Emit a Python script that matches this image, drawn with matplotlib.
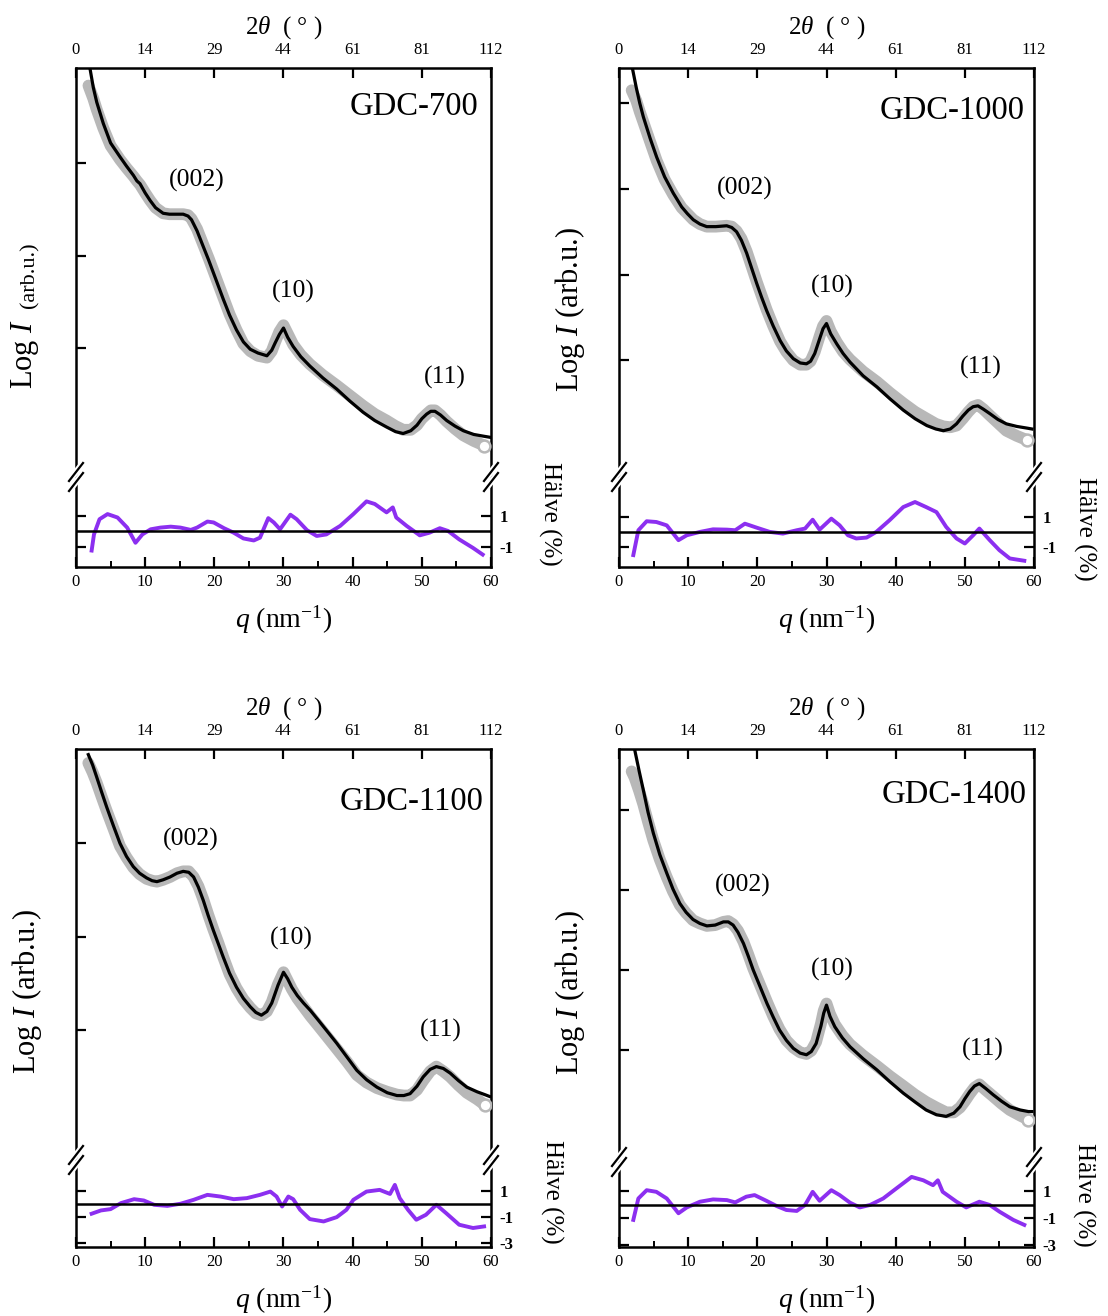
################################################################################
# SAXS/WAXS fits of GDC samples with residual panels
################################################################################
import numpy as np
import matplotlib
matplotlib.use('Agg')
from matplotlib import pyplot as plt
from matplotlib.lines import Line2D
from matplotlib.ticker import MultipleLocator

plt.rcParams['font.family'] = ['Liberation Serif', 'DejaVu Serif']
plt.rcParams['mathtext.fontset'] = 'custom'
plt.rcParams['mathtext.rm'] = 'Liberation Serif'
plt.rcParams['mathtext.it'] = 'Liberation Serif:italic'
plt.rcParams['mathtext.bf'] = 'Liberation Serif:bold'

# shared axis labels
q_ticks = [0, 10, 20, 30, 40, 50, 60]
two_theta = ['0', '14', '29', '44', '61', '81', '112']
peaks = ['(002)', '(10)', '(11)']
samples = ['GDC-700', 'GDC-1000', 'GDC-1100', 'GDC-1400']

# GDC-700  (obs is one point shorter than the fit grid)
q_700 = [1.8, 2.5, 3.0, 3.95, 5.0, 6.36, 7.3, 8.3, 8.8, 9.25,
         10.0, 10.7, 11.5, 12.6, 13.5, 14.5, 15.5, 16.2, 16.7, 17.5,
         18.4, 19.2, 19.9, 21.3, 22.2, 23.2, 24.2, 25.2, 26.3, 27.6,
         28.3, 28.8, 29.4, 30.0, 30.6, 31.4, 32.5, 33.8, 35.7, 37.7,
         39.6, 41.5, 43.2, 44.9, 46.2, 47.3, 48.4, 49.3, 50.0, 50.7,
         51.3, 51.9, 52.7, 53.6, 54.8, 56.0, 57.5, 59.0, 59.8]
fit_700 = [4.12, 3.82, 3.66, 3.43, 3.22, 3.07, 2.97, 2.87, 2.81, 2.78,
           2.68, 2.60, 2.52, 2.46, 2.45, 2.45, 2.45, 2.43, 2.39, 2.27,
           2.10, 1.95, 1.81, 1.53, 1.36, 1.20, 1.07, 0.99, 0.95, 0.92,
           0.98, 1.06, 1.15, 1.22, 1.12, 1.02, 0.91, 0.81, 0.68, 0.56,
           0.43, 0.31, 0.22, 0.15, 0.10, 0.08, 0.11, 0.17, 0.24, 0.29,
           0.32, 0.32, 0.28, 0.22, 0.16, 0.11, 0.07, 0.05, 0.04]
obs_700 = [3.84, 3.70, 3.58, 3.38, 3.19, 3.04, 2.95, 2.86, 2.81, 2.77,
           2.68, 2.60, 2.52, 2.46, 2.45, 2.45, 2.45, 2.44, 2.40, 2.29,
           2.12, 1.97, 1.83, 1.55, 1.37, 1.20, 1.05, 0.97, 0.92, 0.90,
           0.97, 1.07, 1.18, 1.25, 1.16, 1.04, 0.93, 0.83, 0.71, 0.60,
           0.49, 0.38, 0.29, 0.22, 0.16, 0.12, 0.12, 0.17, 0.24, 0.29,
           0.33, 0.33, 0.28, 0.21, 0.13, 0.06, 0.00, -0.05]
qr_700 = [2.26, 2.6, 3.4, 4.56, 6.0, 7.4, 8.6, 9.6, 10.8, 12.2, 13.7, 15.1, 16.6, 17.5, 19.0, 19.9,
          21.4, 22.8, 24.2, 25.7, 26.6, 27.8, 28.6, 29.5, 31.0, 31.9, 33.4, 34.8, 36.2, 38.2, 40.1,
          42.0, 43.2, 44.9, 45.8, 46.3, 47.8, 49.7, 51.1, 52.6, 53.8, 55.4, 57.4, 58.8]
res_700 = [-1.24, -0.2, 0.78, 1.11, 0.89, 0.24, -0.74, -0.2, 0.13, 0.24, 0.30, 0.24, 0.09, 0.24, 0.63,
           0.57, 0.2, -0.09, -0.46, -0.59, -0.41, 0.85, 0.57, 0.13, 1.07, 0.78, 0.07, -0.3, -0.2, 0.35,
           1.11, 1.93, 1.76, 1.22, 1.54, 0.89, 0.35, -0.26, -0.09, 0.2, 0.02, -0.52, -1.07, -1.5]

# GDC-1000
q_1000 = [1.83, 2.5, 3.0, 3.52, 4.5, 5.45, 6.6, 7.85, 9.06, 9.9,
          10.74, 11.7, 12.68, 14.0, 15.57, 16.3, 17.0, 17.7, 18.46, 19.2,
          19.9, 20.6, 21.35, 22.3, 23.3, 24.2, 25.2, 26.2, 27.1, 27.7,
          28.3, 29.0, 29.5, 30.0, 30.6, 31.5, 32.4, 33.4, 35.3, 37.3,
          39.2, 41.1, 42.8, 44.5, 45.8, 46.9, 47.9, 48.8, 49.7, 50.5,
          51.2, 51.9, 52.7, 53.6, 54.8, 56.0, 57.5, 59.0, 59.7]
fit_1000 = [4.45, 4.18, 4.00, 3.84, 3.59, 3.37, 3.14, 2.95, 2.79, 2.71,
            2.64, 2.59, 2.56, 2.56, 2.57, 2.55, 2.50, 2.40, 2.25, 2.07,
            1.90, 1.74, 1.58, 1.40, 1.23, 1.11, 1.02, 0.97, 0.96, 0.99,
            1.08, 1.25, 1.37, 1.43, 1.31, 1.19, 1.08, 0.98, 0.82, 0.69,
            0.55, 0.42, 0.32, 0.24, 0.20, 0.18, 0.20, 0.26, 0.35, 0.42,
            0.46, 0.47, 0.43, 0.38, 0.31, 0.26, 0.23, 0.21, 0.20]
obs_1000 = [4.15, 4.03, 3.90, 3.78, 3.55, 3.33, 3.11, 2.93, 2.78, 2.71,
            2.64, 2.59, 2.56, 2.56, 2.57, 2.56, 2.51, 2.42, 2.27, 2.09,
            1.92, 1.76, 1.59, 1.40, 1.22, 1.10, 1.00, 0.95, 0.95, 0.99,
            1.10, 1.28, 1.40, 1.46, 1.34, 1.21, 1.10, 1.01, 0.87, 0.75,
            0.62, 0.50, 0.40, 0.32, 0.26, 0.23, 0.22, 0.24, 0.32, 0.40,
            0.46, 0.48, 0.43, 0.36, 0.27, 0.18, 0.12, 0.07]
qr_1000 = [2.07, 2.8, 4.0, 5.4, 6.9, 8.6, 9.8, 11.7, 13.6, 15.6, 16.8, 18.2, 19.9, 21.8, 23.7, 25.7,
           26.9, 28.0, 29.0, 30.7, 31.9, 33.1, 34.3, 35.8, 37.2, 39.1, 41.1, 42.8, 44.4, 45.9, 47.3,
           48.8, 50.0, 51.2, 52.1, 53.6, 55.0, 56.5, 58.6]
res_1000 = [-1.52, 0.11, 0.70, 0.65, 0.43, -0.54, -0.22, 0.0, 0.17, 0.15, 0.11, 0.54, 0.28, 0.0,
            -0.11, 0.11, 0.22, 0.80, 0.15, 0.87, 0.43, -0.22, -0.43, -0.37, 0.0, 0.76, 1.63, 1.96,
            1.63, 1.30, 0.33, -0.43, -0.76, -0.22, 0.22, -0.54, -1.20, -1.74, -1.89]

# GDC-1100
q_1100 = [1.78, 2.4, 2.99, 3.7, 4.43, 5.4, 6.36, 7.3, 8.29, 9.2,
          10.2, 11.0, 11.7, 12.6, 13.6, 14.6, 15.5, 16.3, 17.0, 17.7,
          18.4, 19.1, 19.85, 20.6, 21.3, 22.2, 23.2, 24.2, 25.2, 26.0,
          26.8, 27.6, 28.3, 29.2, 30.0, 30.6, 31.2, 32.0, 32.9, 33.9,
          35.0, 36.3, 37.7, 39.2, 40.6, 42.0, 43.5, 45.0, 46.4, 47.4,
          48.3, 49.3, 50.2, 51.2, 52.1, 53.1, 54.1, 55.3, 56.5, 58.0,
          59.1, 59.8]
fit_1100 = [3.95, 3.84, 3.71, 3.55, 3.39, 3.19, 3.00, 2.86, 2.75, 2.68,
            2.63, 2.60, 2.59, 2.61, 2.64, 2.68, 2.70, 2.69, 2.64, 2.53,
            2.39, 2.23, 2.07, 1.92, 1.78, 1.61, 1.46, 1.34, 1.25, 1.19,
            1.16, 1.20, 1.29, 1.48, 1.62, 1.55, 1.46, 1.37, 1.29, 1.21,
            1.11, 0.99, 0.86, 0.71, 0.57, 0.47, 0.39, 0.33, 0.30, 0.30,
            0.32, 0.40, 0.50, 0.58, 0.61, 0.59, 0.54, 0.46, 0.39, 0.34,
            0.31, 0.29]
obs_1100 = [3.86, 3.76, 3.65, 3.50, 3.35, 3.16, 2.97, 2.85, 2.74, 2.67,
            2.62, 2.60, 2.59, 2.61, 2.64, 2.68, 2.70, 2.70, 2.64, 2.54,
            2.40, 2.24, 2.08, 1.93, 1.78, 1.60, 1.45, 1.33, 1.24, 1.18,
            1.16, 1.20, 1.30, 1.49, 1.62, 1.53, 1.44, 1.34, 1.25, 1.15,
            1.05, 0.93, 0.80, 0.66, 0.52, 0.44, 0.38, 0.34, 0.31, 0.30,
            0.30, 0.36, 0.46, 0.56, 0.61, 0.56, 0.50, 0.41, 0.33, 0.26,
            0.20]
qr_1100 = [2.26, 3.6, 5.0, 6.5, 8.4, 9.8, 11.3, 13.2, 15.1, 17.0, 19.0, 20.9, 22.8, 24.7, 26.6, 28.1,
           29.0, 29.8, 30.7, 31.4, 32.4, 33.8, 35.8, 37.7, 39.1, 40.1, 42.0, 43.9, 45.4, 46.1, 46.8,
           48.0, 49.2, 50.6, 52.1, 53.5, 55.4, 57.4, 59.0]
res_1100 = [-0.73, -0.48, -0.38, 0.08, 0.38, 0.28, -0.05, -0.13, 0.03, 0.33, 0.71, 0.58, 0.38, 0.46,
            0.71, 0.96, 0.58, -0.18, 0.58, 0.38, -0.43, -1.14, -1.32, -0.99, -0.43, 0.33, 0.96, 1.09,
            0.78, 1.47, 0.46, -0.43, -1.19, -0.81, -0.05, -0.68, -1.57, -1.82, -1.70]

# GDC-1400
q_1400 = [1.83, 2.27, 2.9, 3.51, 4.2, 4.96, 5.9, 6.9, 7.8, 8.8,
          9.7, 10.7, 11.7, 12.7, 13.9, 15.1, 15.8, 16.5, 17.2, 18.0,
          18.7, 19.4, 20.4, 21.4, 22.3, 23.2, 24.2, 25.2, 26.2, 27.1,
          27.8, 28.5, 29.2, 29.6, 30.0, 30.5, 31.2, 32.3, 33.4, 35.3,
          37.3, 39.2, 41.1, 42.8, 44.4, 45.9, 47.3, 48.4, 49.3, 50.0,
          50.7, 51.4, 52.1, 53.0, 54.1, 55.3, 56.5, 58.0, 59.2, 59.7]
fit_1400 = [4.95, 4.75, 4.49, 4.25, 3.97, 3.71, 3.44, 3.21, 3.01, 2.83,
            2.72, 2.63, 2.58, 2.55, 2.56, 2.60, 2.60, 2.56, 2.47, 2.33,
            2.17, 2.00, 1.79, 1.58, 1.41, 1.25, 1.12, 1.02, 0.96, 0.94,
            0.98, 1.08, 1.30, 1.46, 1.56, 1.42, 1.29, 1.15, 1.04, 0.89,
            0.75, 0.60, 0.46, 0.35, 0.25, 0.19, 0.17, 0.21, 0.29, 0.39,
            0.48, 0.55, 0.58, 0.52, 0.44, 0.36, 0.29, 0.25, 0.23, 0.23]
obs_1400 = [4.48, 4.40, 4.24, 4.07, 3.85, 3.62, 3.38, 3.16, 2.98, 2.81,
            2.71, 2.62, 2.58, 2.55, 2.56, 2.60, 2.61, 2.57, 2.49, 2.35,
            2.19, 2.02, 1.81, 1.60, 1.42, 1.26, 1.12, 1.03, 0.97, 0.95,
            0.99, 1.10, 1.33, 1.49, 1.58, 1.45, 1.32, 1.18, 1.07, 0.93,
            0.80, 0.67, 0.55, 0.44, 0.35, 0.28, 0.22, 0.22, 0.28, 0.36,
            0.45, 0.53, 0.57, 0.50, 0.42, 0.33, 0.25, 0.18, 0.13]
qr_1400 = [2.07, 2.8, 4.0, 5.4, 6.9, 8.6, 9.8, 11.7, 13.6, 15.6, 16.8, 18.4, 19.6, 21.3, 22.8, 24.2,
           25.7, 26.9, 28.0, 29.0, 30.7, 31.9, 33.4, 34.8, 36.3, 38.2, 40.1, 42.3, 44.0, 45.4, 46.1,
           46.8, 48.8, 50.2, 52.1, 53.6, 55.0, 57.0, 58.6]
res_1400 = [-1.12, 0.46, 1.07, 0.95, 0.46, -0.63, -0.2, 0.22, 0.39, 0.34, 0.17, 0.59, 0.71, 0.29,
            -0.1, -0.39, -0.46, -0.02, 0.95, 0.29, 1.07, 0.71, 0.15, -0.2, -0.02, 0.46, 1.2, 2.05,
            1.80, 1.44, 1.80, 0.95, 0.22, -0.2, 0.22, -0.02, -0.51, -1.12, -1.49]

# ---------------- layout (pixel boxes: left, top, junction, bottom) ----------------
W, H = 1108, 1316
boxes = [(76, 68, 477, 567), (619, 68, 477, 567), (76, 749, 1160, 1247), (619, 749, 1162, 1247)]
main_ylim = [(-0.39, 4.03), (-0.36, 4.41), (-0.39, 4.01), (-0.40, 4.76)]
main_yticks = [[1, 2, 3], [1, 2, 3, 4], [1, 2, 3], [1, 2, 3, 4]]
res_ylim = [(-2.3, 3.5), (-2.3, 3.6), (-3.27, 3.37), (-3.12, 3.15)]
res_yticks = [[1, -1], [1, -1], [1, -1, -3], [1, -1, -3]]
peak_pos = [[(17.5, 2.81), (31.4, 1.62), (53.3, 0.69)],
            [(18.2, 3.00), (30.9, 1.86), (52.3, 0.92)],
            [(16.6, 3.04), (31.1, 1.98), (52.8, 1.00)],
            [(17.9, 3.06), (30.8, 2.00), (52.6, 1.00)]]
name_pos = [(0.969, 0.905), (0.978, 0.895), (0.983, 0.871), (0.983, 0.889)]
halve_pos = [(1.142, 0.59), (1.123, 0.42), (1.145, 0.63), (1.12, 0.61)]

panels = [(q_700, fit_700, obs_700, qr_700, res_700),
          (q_1000, fit_1000, obs_1000, qr_1000, res_1000),
          (q_1100, fit_1100, obs_1100, qr_1100, res_1100),
          (q_1400, fit_1400, obs_1400, qr_1400, res_1400)]

GRAY = '#b8b8b8'
PURPLE = '#8c2ff0'
LW = 1.8
TICK_FS = 12


def break_marks(fig, x_px, y_px):
    # two short slashes across the spine where the y-axis is broken
    for color, lw in (('white', 4.5), ('black', 1.6)):
        for dy in (-5, 5):
            xs = [(x_px - 7) / W, (x_px + 7) / W]
            ys = [1 - (y_px + dy + 9) / H, 1 - (y_px + dy - 9) / H]
            fig.add_artist(Line2D(xs, ys, color=color, lw=lw))


fig = plt.figure(figsize=(W / 100, H / 100), dpi=100)

for i, (q, fit, obs, qr, res) in enumerate(panels):
    left, top, junc, bottom = boxes[i]
    ax = fig.add_axes([left / W, 1 - junc / H, 415 / W, (junc - top) / H])
    axr = fig.add_axes([left / W, 1 - bottom / H, 415 / W, (bottom - junc) / H])

    # main: measured data band + fit
    q_obs = q[:len(obs)]
    ax.plot(q_obs, obs, color=GRAY, lw=8.5, solid_capstyle='round', solid_joinstyle='round', zorder=2)
    ax.plot(q_obs[-1], obs[-1], 'o', ms=8.5, mfc='white', mec=GRAY, mew=1.8, zorder=3)
    ax.plot(q, fit, color='black', lw=2.3, zorder=4)
    ax.set_xlim(0, 60)
    ax.set_ylim(*main_ylim[i])
    ax.spines['bottom'].set_visible(False)
    for s in ('top', 'left', 'right'):
        ax.spines[s].set_linewidth(LW)
    ax.set_xticks(q_ticks)
    ax.set_xticklabels(two_theta)
    ax.tick_params(axis='x', top=True, bottom=False, labeltop=True, labelbottom=False,
                   direction='in', length=7, width=1.6, pad=7, labelsize=TICK_FS)
    ax.set_yticks(main_yticks[i])
    ax.tick_params(axis='y', left=True, right=False, labelleft=False, direction='in',
                   length=7, width=1.6)
    ax.set_xlabel(r'2$\theta$  ( ° )', fontsize=18, labelpad=6)
    ax.xaxis.set_label_position('top')

    ax.text(name_pos[i][0], name_pos[i][1], samples[i], transform=ax.transAxes,
            ha='right', va='center', fontsize=23.5)
    for lab, (px, py) in zip(peaks, peak_pos[i]):
        ax.text(px, py, lab, ha='center', va='center', fontsize=18.5)

    if i == 0:
        ax.text(-0.122, 0.30, r'Log $I$', transform=ax.transAxes, rotation=90,
                ha='center', va='center', fontsize=22)
        ax.text(-0.11, 0.494, '(arb.u.)', transform=ax.transAxes, rotation=90,
                ha='center', va='center', fontsize=16)
    else:
        ax.text(-0.118, 0.41, r'Log $I$ (arb.u.)', transform=ax.transAxes, rotation=90,
                ha='center', va='center', fontsize=22)

    # residual panel
    axr.plot(qr, res, color=PURPLE, lw=2.8, zorder=2)
    axr.axhline(0, color='black', lw=1.8, zorder=3)
    axr.set_xlim(0, 60)
    axr.set_ylim(*res_ylim[i])
    axr.spines['top'].set_visible(False)
    for s in ('bottom', 'left', 'right'):
        axr.spines[s].set_linewidth(LW)
    axr.set_xticks(q_ticks)
    axr.xaxis.set_minor_locator(MultipleLocator(5))
    axr.tick_params(axis='x', which='major', direction='in', length=7, width=1.6,
                    pad=5, labelsize=TICK_FS, top=False)
    axr.tick_params(axis='x', which='minor', direction='in', length=4, width=1.4, top=False)
    axr.set_yticks(res_yticks[i])
    axr.set_yticklabels([str(t) for t in res_yticks[i]], fontweight='bold')
    axr.tick_params(axis='y', left=True, right=True, labelleft=False, labelright=True,
                    direction='in', length=7, width=1.6, pad=6, labelsize=TICK_FS)
    axr.set_xlabel(r'$q$ (nm$^{-1}$)', fontsize=20, labelpad=10)
    axr.text(halve_pos[i][0], halve_pos[i][1], 'Hälve (%)', transform=axr.transAxes,
             rotation=270, ha='center', va='center', fontsize=18)

    break_marks(fig, left, junc)
    break_marks(fig, left + 415, junc)

fig.savefig('out.png', dpi=100)
